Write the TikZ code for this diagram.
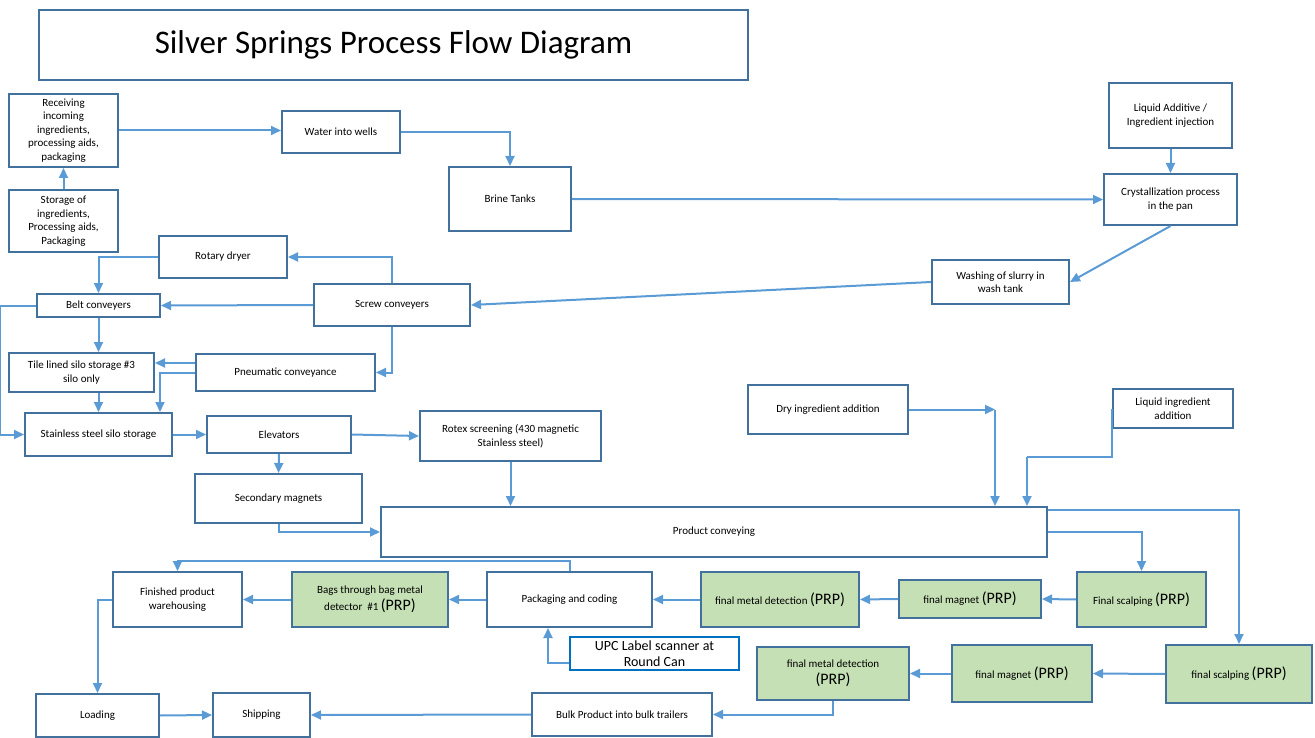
\documentclass[tikz,border=0pt]{standalone}
\usepackage{fontspec}
\setmainfont{Carlito}
\usepackage{xcolor}
\usetikzlibrary{arrows.meta,calc}

\definecolor{boxblue}{RGB}{65,113,156}
\definecolor{lineblue}{RGB}{91,155,213}
\definecolor{prpgreen}{RGB}{197,224,180}
\definecolor{upcblue}{RGB}{0,112,192}
\newcommand{\prp}{{\fontsize{16}{18}\selectfont(PRP)}}

\begin{document}
\begin{tikzpicture}[x=1pt,y=1pt,yscale=-1,xscale=1,
  proc/.style={draw=boxblue,line width=2pt,fill=white,align=center,inner sep=2pt,font=\fontsize{11}{13.5}\selectfont},
  prpbox/.style={proc,fill=prpgreen},
  flow/.style={draw=lineblue,line width=2pt,-{Triangle[length=10pt,width=9pt]}},
  link/.style={draw=lineblue,line width=2pt}]
\useasboundingbox (0,0) rectangle (1315,738);

%Shape: Title
\node[proc,minimum width=709pt,minimum height=70pt,font=\fontsize{33}{36}\selectfont] (title) at (393.5,45) {Silver Springs Process Flow Diagram};

%Shape: Rectangle -- intake and brine
\node[proc,minimum width=109pt,minimum height=73pt] (recv) at (63.5,130.5) {Receiving\\incoming\\ingredients,\\processing aids,\\packaging};
\node[proc,minimum width=109pt,minimum height=62pt] (stor) at (63.5,221) {Storage of\\ingredients,\\Processing aids,\\Packaging};
\node[proc,minimum width=118pt,minimum height=42pt] (water) at (341,132) {Water into wells};
\node[proc,minimum width=122pt,minimum height=64pt] (brine) at (510,199) {Brine Tanks};
\node[proc,minimum width=123pt,minimum height=65pt] (liqadd) at (1170.5,115.5) {Liquid Additive /\\Ingredient injection};
\node[proc,minimum width=133pt,minimum height=51pt] (cryst) at (1170.5,199.5) {Crystallization process\\in the pan};
\node[proc,minimum width=137pt,minimum height=44pt] (wash) at (1000.5,282) {Washing of slurry in\\wash tank};

%Shape: Rectangle -- drying and storage
\node[proc,minimum width=128pt,minimum height=42pt] (rotary) at (223,257) {Rotary dryer};
\node[proc,minimum width=156pt,minimum height=42pt] (screw) at (392,305) {Screw conveyers};
\node[proc,minimum width=123pt,minimum height=23pt] (belt) at (98.5,305.5) {Belt conveyers};
\node[proc,minimum width=145pt,minimum height=39pt] (tile) at (81.5,372.5) {Tile lined silo storage \#3\\silo only};
\node[proc,minimum width=179pt,minimum height=37pt] (pneu) at (285.5,372.5) {Pneumatic conveyance};
\node[proc,minimum width=147pt,minimum height=43pt] (stain) at (98.5,434.5) {Stainless steel silo storage};
\node[proc,minimum width=144pt,minimum height=37pt] (elev) at (279,434.5) {Elevators};
\node[proc,minimum width=181pt,minimum height=50pt] (rotex) at (510.5,436) {Rotex screening (430 magnetic\\Stainless steel)};
\node[proc,minimum width=167pt,minimum height=49pt] (secmag) at (278.5,498.5) {Secondary magnets};
\node[proc,minimum width=666pt,minimum height=50pt] (prod) at (714,532) {Product conveying};
\node[proc,minimum width=160pt,minimum height=49pt] (dry) at (828,409.5) {Dry ingredient addition};
\node[proc,minimum width=120pt,minimum height=39pt] (liqing) at (1173,408.5) {Liquid ingredient\\addition};

%Shape: Rectangle -- finishing lines
\node[prpbox,minimum width=129pt,minimum height=55pt] (scalpa) at (1141.5,599.5) {Final scalping \prp};
\node[prpbox,minimum width=142pt,minimum height=38pt] (maga) at (970,599) {final magnet \prp};
\node[prpbox,minimum width=158pt,minimum height=55pt] (metala) at (780,599.5) {final metal detection \prp};
\node[proc,minimum width=165pt,minimum height=55pt] (pack) at (569.5,599.5) {Packaging and coding};
\node[prpbox,minimum width=156pt,minimum height=55pt] (bags) at (370,599.5) {Bags through bag metal\\[2pt]detector~~\#1 \prp};
\node[proc,minimum width=129pt,minimum height=55pt] (fin) at (177.5,599.5) {Finished product\\warehousing};
\node[proc,draw=upcblue,minimum width=169pt,minimum height=33pt,inner sep=1pt,font=\fontsize{14}{16}\selectfont] (upc) at (654.5,653.5) {UPC Label scanner at\\Round Can};
\node[prpbox,minimum width=146pt,minimum height=58pt] (scalpb) at (1239,674) {final scalping \prp};
\node[prpbox,minimum width=140pt,minimum height=57pt] (magb) at (1022,673.5) {final magnet \prp};
\node[prpbox,minimum width=152pt,minimum height=53pt] (metalb) at (833,673.5) {final metal detection\\[3pt]\prp};
\node[proc,minimum width=180pt,minimum height=43pt] (bulk) at (622,714.5) {Bulk Product into bulk trailers};
\node[proc,minimum width=123pt,minimum height=43pt] (load) at (97.5,715.5) {Loading};
\node[proc,minimum width=97pt,minimum height=44pt] (ship) at (261.5,715) {Shipping};

\coordinate (drycorner) at (995,409.5);
\coordinate (liqbend) at (1027,457);
\coordinate (pneuhi) at ($(pneu.west)+(0,-9.5)$);
\coordinate (pneudrop) at ($(stain.north east)+(-13,0)$);
\coordinate (prodhi) at ($(prod.north east)+(0,4)$);
\coordinate (upclo) at ($(upc.west)+(0,9.5)$);
\coordinate (packlo) at ($(pack.south)+(-21.5,0)$);

%Straight Lines
\draw[flow] (stor.north) -- (recv.south);
\draw[flow] (recv.east) -- (recv.east -| water.west);
\draw[flow] (water.east) -| (brine.north);
\draw[flow] (brine.east) -- (cryst.west);
\draw[flow] (liqadd.south) -- (cryst.north);
\draw[flow] (cryst.south) -- (wash.east);
\draw[flow] (wash.west) -- (screw.east);
\draw[flow] (screw.north) |- (rotary.east);
\draw[flow] (rotary.west) -| (belt.north);
\draw[flow] (screw.west) -- (belt.east);
\draw[flow] (belt.south) -- (belt.south |- tile.north);
\draw[flow] (belt.west) -- ++(-36,0) |- (stain.west);
\draw[flow] (screw.south) |- (pneu.east);
\draw[flow] (pneuhi) -- (pneuhi -| tile.east);
\draw[flow] (pneu.west) -| (pneudrop);
\draw[flow] (belt.south |- tile.south) -- (belt.south |- stain.north);
\draw[flow] (stain.east) -- (elev.west);
\draw[flow] (elev.east) -- (rotex.west);
\draw[flow] (elev.south) -- (secmag.north);
\draw[flow] (secmag.south) |- (prod.west);
\draw[flow] (rotex.south) -- (rotex.south |- prod.north);
\draw[flow] (dry.east) -- (drycorner);
\draw[flow] (drycorner) -- (drycorner |- prod.north);
\draw[link] (liqing.west) |- (liqbend);
\draw[flow] (liqbend) -- (liqbend |- prod.north);
\draw[flow] (prod.east) -| (scalpa.north);
\draw[flow] (prodhi) -| (scalpb.north);
\draw[flow] (scalpa.west) -- (maga.east);
\draw[flow] (maga.west) -- (metala.east);
\draw[flow] (metala.west) -- (pack.east);
\draw[flow] (pack.west) -- (bags.east);
\draw[flow] (bags.west) -- (fin.east);
\draw[flow] (pack.north) -- ++(0,-10) -| (fin.north);
\draw[flow] (upclo) -| (packlo);
\draw[flow] (scalpb.west) -- (magb.east);
\draw[flow] (magb.west) -- (metalb.east);
\draw[flow] (metalb.south) |- (bulk.east);
\draw[flow] (bulk.west) -- (ship.east);
\draw[flow] (fin.west) -| (load.north);
\draw[flow] (load.east) -- (ship.west);
\end{tikzpicture}
\end{document}
